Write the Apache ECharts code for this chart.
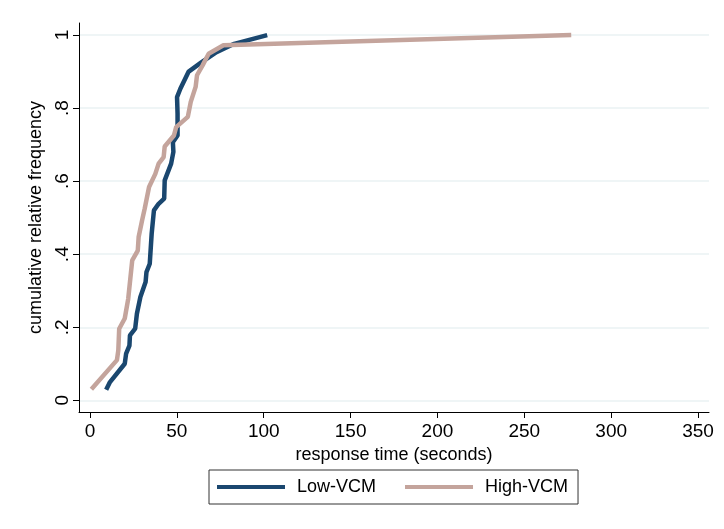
<!DOCTYPE html>
<html>
<head>
<meta charset="utf-8">
<script src="https://cdn.jsdelivr.net/npm/echarts@6/dist/echarts.min.js"></script>
<style>
  html, body { margin: 0; padding: 0; background: #fff; }
  #chart { width: 724px; height: 529px; }
</style>
</head>
<body>
<div id="chart"></div>
<script>
// response time (seconds) vs cumulative relative frequency
const lowTime = [9.3, 11.5, 20, 20.8, 22.7, 23, 26, 27, 29, 32, 32.5, 34.4, 35.5, 36.8, 39.5, 42.7, 43, 46.7, 48, 47.7, 50.4, 50.4, 50.1, 52, 56.8, 64.3, 72.8, 83, 102];
const lowFreq = [0.029, 0.05, 0.10, 0.128, 0.15, 0.178, 0.196, 0.237, 0.283, 0.324, 0.351, 0.374, 0.456, 0.52, 0.538, 0.552, 0.602, 0.648, 0.68, 0.707, 0.725, 0.785, 0.83, 0.853, 0.90, 0.926, 0.953, 0.976, 1.0];

const highTime = [0.8, 15.5, 16.3, 16.8, 20, 22, 24.3, 27.5, 28, 30, 31.5, 34, 37.6, 39.5, 42.4, 43, 48.3, 49.6, 56.3, 58, 60.8, 61.6, 64.8, 68.3, 76.8, 277];
const highFreq = [0.03, 0.11, 0.137, 0.196, 0.224, 0.278, 0.383, 0.41, 0.447, 0.493, 0.525, 0.584, 0.62, 0.648, 0.666, 0.695, 0.725, 0.748, 0.776, 0.817, 0.858, 0.89, 0.917, 0.949, 0.972, 1.0];

const xTicks = [0, 50, 100, 150, 200, 250, 300, 350];
const yTicks = [0, 0.2, 0.4, 0.6, 0.8, 1];
const yTickLabels = ['0', '.2', '.4', '.6', '.8', '1'];

const font = '"Liberation Sans", Arial, sans-serif';

function pairs(xs, ys) {
  return xs.map((x, i) => [x, ys[i]]);
}

const myChart = echarts.init(document.getElementById('chart'));
const option = {
  backgroundColor: '#fff',
  animation: false,
  grid: { left: 79, right: 15, top: 23, bottom: 117 },
  legend: {
    left: 209,
    top: 470,
    orient: 'horizontal',
    borderColor: '#333',
    borderWidth: 1,
    padding: [8, 10, 8, 8],
    itemWidth: 68,
    itemHeight: 4,
    itemGap: 29,
    icon: 'rect',
    textStyle: { fontFamily: font, fontSize: 18, color: '#000', padding: [0, 0, 0, 7] },
    data: ['Low-VCM', 'High-VCM']
  },
  xAxis: {
    type: 'value',
    min: -6.33,
    max: 356.3,
    name: 'response time (seconds)',
    nameLocation: 'middle',
    nameGap: 30,
    nameTextStyle: { fontFamily: font, fontSize: 18, color: '#000' },
    axisLine: { show: true, onZero: false, lineStyle: { color: '#000', width: 1 } },
    axisTick: { show: true, length: 6, customValues: xTicks, lineStyle: { color: '#000' } },
    axisLabel: { customValues: xTicks, fontFamily: font, fontSize: 19, color: '#000', margin: 10 },
    splitLine: { show: false }
  },
  yAxis: {
    type: 'value',
    min: -0.032,
    max: 1.033,
    name: 'cumulative relative frequency',
    nameLocation: 'middle',
    nameGap: 32,
    nameTextStyle: { fontFamily: font, fontSize: 18, color: '#000' },
    axisLine: { show: true, onZero: false, lineStyle: { color: '#000', width: 1 } },
    axisTick: { show: true, length: 6, customValues: yTicks, lineStyle: { color: '#000' } },
    axisLabel: {
      customValues: yTicks,
      rotate: 90,
      fontFamily: font,
      fontSize: 19,
      color: '#000',
      margin: 7,
      formatter: v => yTickLabels[yTicks.findIndex(t => Math.abs(t - v) < 1e-6)]
    },
    splitLine: { show: true, lineStyle: { color: '#eaf2f3', width: 1.5 } }
  },
  series: [
    {
      name: 'Low-VCM',
      type: 'line',
      data: pairs(lowTime, lowFreq),
      showSymbol: false,
      symbol: 'none',
      color: '#1a476f',
      lineStyle: { color: '#1a476f', width: 4.5 }
    },
    {
      name: 'High-VCM',
      type: 'line',
      data: pairs(highTime, highFreq),
      showSymbol: false,
      symbol: 'none',
      color: '#c4a49c',
      lineStyle: { color: '#c4a49c', width: 4.5 }
    }
  ]
};
myChart.setOption(option, true);
</script>
</body>
</html>
